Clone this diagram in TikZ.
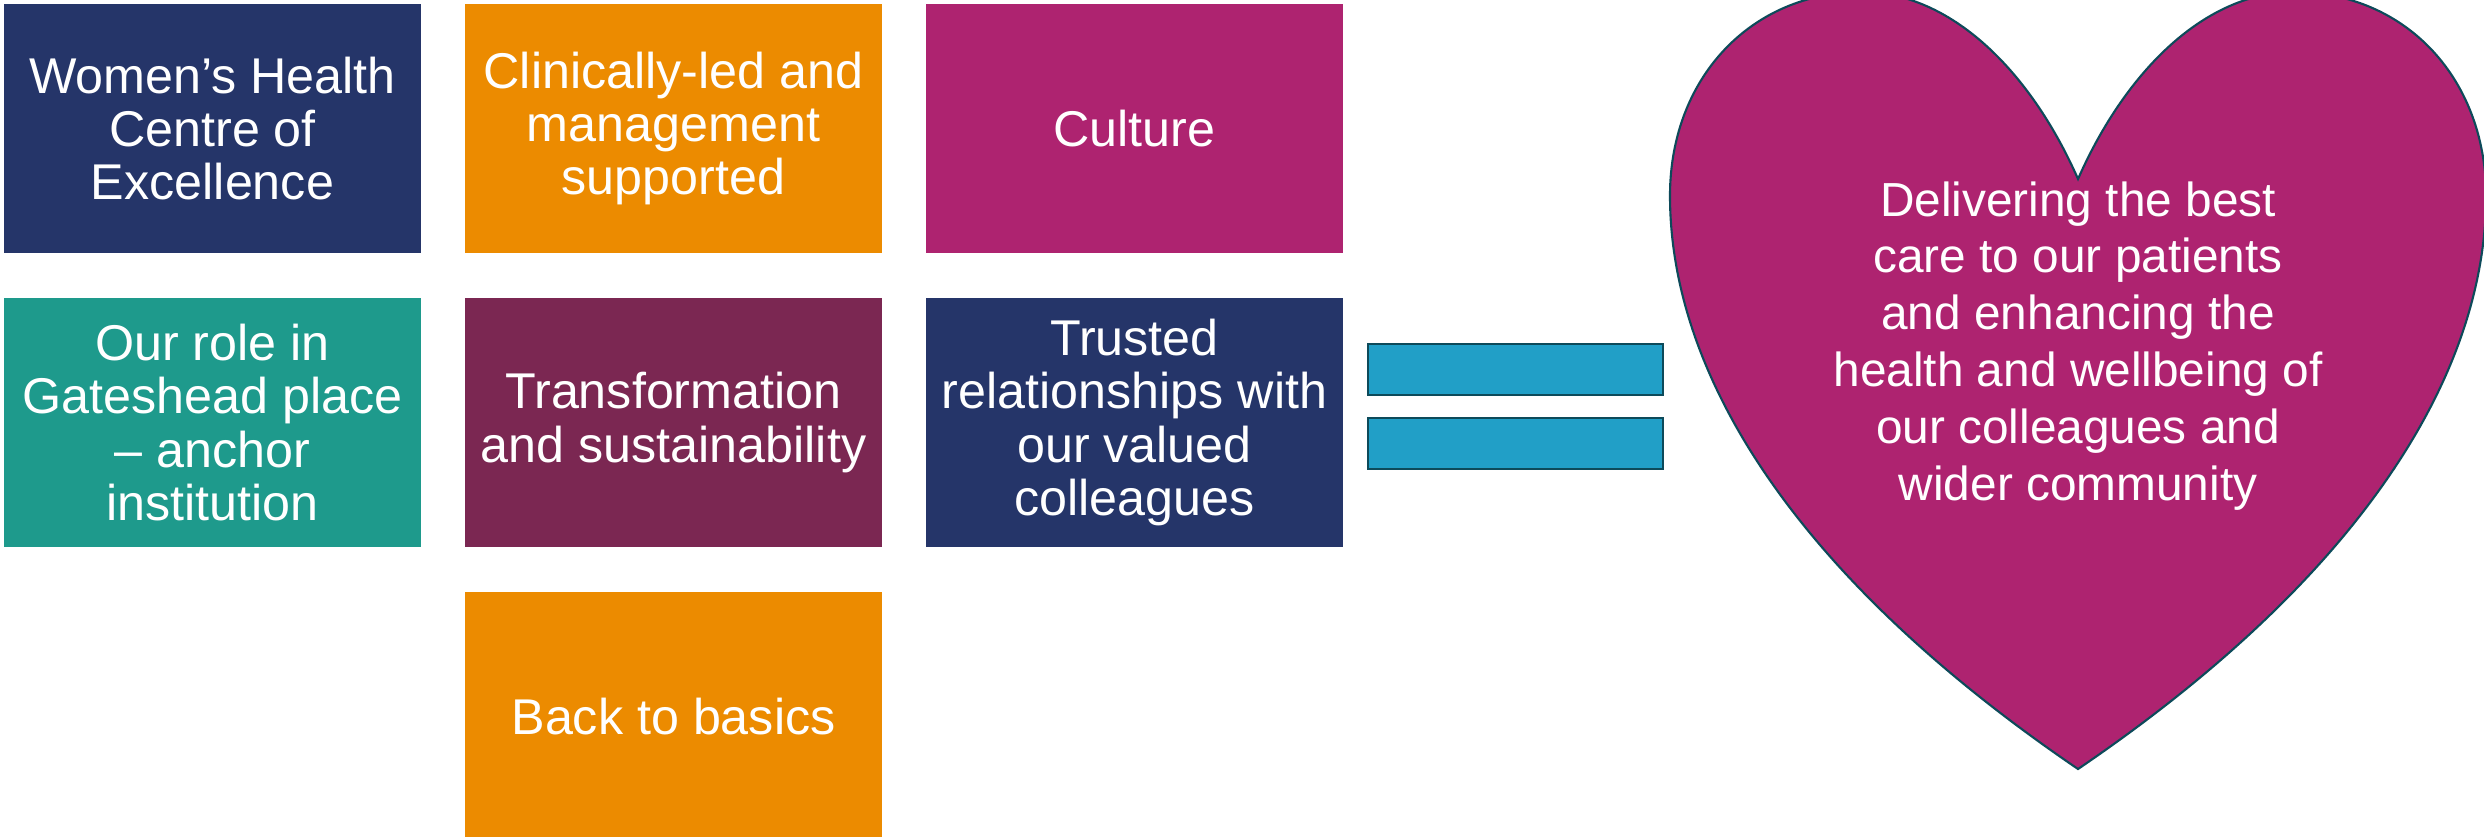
\documentclass[tikz,border=0pt]{standalone}
\usepackage{fontspec}
\setmainfont{Liberation Sans}
\usetikzlibrary{positioning}

\definecolor{navy}{HTML}{253569}
\definecolor{amber}{HTML}{EC8B00}
\definecolor{magenta}{HTML}{AE2370}
\definecolor{plum}{HTML}{7B2752}
\definecolor{teal}{HTML}{1E9A8C}
\definecolor{barblue}{HTML}{219FC7}
\definecolor{edge}{HTML}{0D4A5A}

\tikzset{
  tile/.style={minimum width=41.7mm, minimum height=24.9mm, inner sep=0pt,
    align=center, text=white, font=\fontsize{14.3}{15.2}\selectfont},
  bar/.style={draw=edge, line width=0.6pt, fill=barblue,
    minimum width=29.5mm, minimum height=5.1mm, inner sep=0pt},
}

\begin{document}
\begin{tikzpicture}[x=0.1mm, y=-0.1mm]
	\useasboundingbox (0,0) rectangle (2484,836);

	\begin{scope}
		% first row
		\node[tile, fill=navy] (health) at (212.5, 128.5) {Women’s Health\\Centre of\\Excellence};
		\node[tile, fill=amber] (clinical) at (673.5, 128.5) {Clinically-led and\\management\\supported};
		\node[tile, fill=magenta] (culture) at (1134.5, 128.5) {Culture};

		% second row
		\node[tile, fill=teal] (role) at (212.5, 422.5) {Our role in\\Gateshead place\\– anchor\\institution};
		\node[tile, fill=plum] (transform) at (673.5, 422.5) {Transformation\\and sustainability};
		\node[tile, fill=navy] (trusted) at (1134.5, 422.5) {Trusted\\relationships with\\our valued\\colleagues};

		% third row
		\node[tile, fill=amber] (basics) at (673.5, 716.5) {Back to basics};
	\end{scope}

	% equals sign
	\node[bar] (eqtop) at (1515.5, 369.5) {};
	\node[bar] (eqbottom) at (1515.5, 443.5) {};

	% heart
	\draw[draw=edge, line width=0.6pt, fill=magenta]
		(2078,769) .. controls (1800,580) and (1672,380) .. (1670,200)
		.. controls (1668,80) and (1750,-8) .. (1862,-8)
		.. controls (1950,-8) and (2030,70) .. (2078,179)
		.. controls (2126,70) and (2206,-8) .. (2294,-8)
		.. controls (2406,-8) and (2488,80) .. (2486,200)
		.. controls (2484,380) and (2356,580) .. (2078,769) -- cycle;
	\node[align=center, text=white, inner sep=0pt, font=\fontsize{13.6}{16.2}\selectfont]
		(goal) at (2078, 346) {Delivering the best\\care to our patients\\and enhancing the\\health and wellbeing of\\our colleagues and\\wider community};
\end{tikzpicture}
\end{document}
